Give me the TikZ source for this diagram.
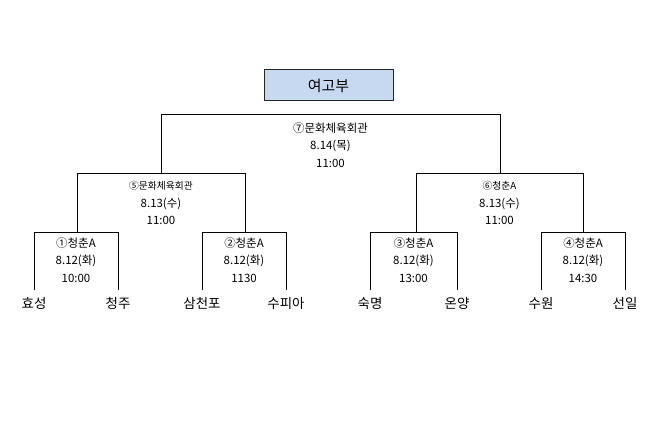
\documentclass[tikz,border=0pt]{standalone}
\usepackage{fontspec}
\setmainfont{Noto Sans CJK KR}
\usetikzlibrary{positioning}
\definecolor{cBox}{HTML}{C6D9F1}
\tikzset{
  wire/.style={line width=1pt},
  info/.style={font=\fontsize{11.5}{17.5}\selectfont,align=center,inner sep=0pt},
  team/.style={font=\fontsize{13.5}{15}\selectfont,inner sep=0pt},
  titlebox/.style={draw=black!85,fill=cBox,line width=1pt,minimum width=129bp,minimum height=31bp,font=\fontsize{15}{17}\selectfont}
}
% name, x left, x right, y top, y bottom
\newcommand{\bracket}[5]{%
  \coordinate (#1-tl) at (#2,#4);
  \coordinate (#1-tr) at (#3,#4);
  \coordinate (#1-bl) at (#2,#5);
  \coordinate (#1-br) at (#3,#5);
  \draw[wire] (#1-bl) -- (#1-tl) -- (#1-tr) -- (#1-br);}
\newcommand{\smalltxt}{\fontsize{9.8}{17.5}\selectfont}

\begin{document}
\begin{tikzpicture}[x=1bp,y=-1bp]
  \useasboundingbox (0,0) rectangle (658,438);
  \node[titlebox] (title) at (328.5,85.5) {여고부};
  % final
  \bracket{fin}{161}{500}{115}{174}
  \node[info] (fin-txt) at (330.5,145) {⑦문화체육회관\\8.14(목)\\11:00};
  % semifinals
  \bracket{semiA}{77}{245}{174}{232}
  \bracket{semiB}{416}{583}{174}{232}
  \node[info] (semiA-txt) at (161,203) {{\smalltxt ⑤문화체육회관}\\8.13(수)\\11:00};
  \node[info] (semiB-txt) at (499.5,203) {{\smalltxt ⑥청춘A}\\8.13(수)\\11:00};
  % first round
  \bracket{mA}{34}{118}{232}{290}
  \bracket{mB}{202}{286}{232}{290}
  \bracket{mC}{370}{457}{232}{290}
  \bracket{mD}{541}{625}{232}{290}
  \node[info] (mA-txt) at (76,260) {①청춘A\\8.12(화)\\10:00};
  \node[info] (mB-txt) at (244,260) {②청춘A\\8.12(화)\\1130};
  \node[info] (mC-txt) at (413.5,260) {③청춘A\\8.12(화)\\13:00};
  \node[info] (mD-txt) at (583,260) {④청춘A\\8.12(화)\\14:30};
  % teams
  \node[team,below=7bp of mA-bl] (hyoseong) {효성};
  \node[team,below=7bp of mA-br] (cheongju) {청주};
  \node[team,below=7bp of mB-bl] (samcheonpo) {삼천포};
  \node[team,below=7bp of mB-br] (supia) {수피아};
  \node[team,below=7bp of mC-bl] (sookmyung) {숙명};
  \node[team,below=7bp of mC-br] (onyang) {온양};
  \node[team,below=7bp of mD-bl] (suwon) {수원};
  \node[team,below=7bp of mD-br] (seonil) {선일};
\end{tikzpicture}
\end{document}
